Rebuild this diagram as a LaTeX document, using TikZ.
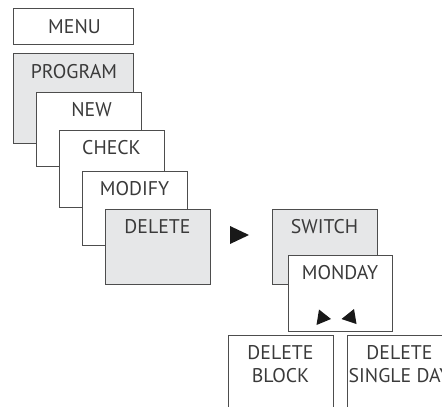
\documentclass[tikz,border=0pt]{standalone}
\usepackage{fontspec}
\setmainfont{PT Sans}
\definecolor{boxgray}{HTML}{E6E7E8}
\definecolor{linegray}{HTML}{4D4D4D}
\definecolor{txtgray}{HTML}{3A3A3A}
\begin{document}
\begin{tikzpicture}[x=1pt,y=-1pt,
  box/.style={draw=linegray, line width=1pt, fill=white, minimum width=105pt,
    minimum height=75pt, anchor=north west, inner sep=0pt, outer sep=0pt},
  graybox/.style={box, fill=boxgray},
  openbox/.style={minimum width=105pt, minimum height=80pt, anchor=north west,
    inner sep=0pt, outer sep=0pt},
  lbl/.style={anchor=north, text=txtgray, font=\fontsize{19.8}{22.4}\selectfont,
    inner sep=0pt, align=center},
  tri/.style={fill=black!90, draw=none}
]
\useasboundingbox (0,0) rectangle (442,407);
% left stack
\node[box, minimum width=120pt, minimum height=36pt] (menu) at (13,8) {};
\node[lbl] (menut) at ([xshift=1.5pt,yshift=-11pt]menu.north) {MENU};
\node[graybox, minimum width=120pt, minimum height=90pt] (prog) at (13,53) {};
\node[lbl] (progt) at ([xshift=1pt,yshift=-11pt]prog.north) {PROGRAM};
\node[box, minimum height=74pt] (new) at (36,92) {};
\node[lbl] (newt) at ([xshift=3pt,yshift=-10.5pt]new.north) {NEW};
\node[box, minimum height=77pt] (check) at (59,130) {};
\node[lbl] (checkt) at ([yshift=-10.5pt]check.north) {CHECK};
\node[box, minimum height=74pt] (modify) at (82,171) {};
\node[lbl] (modifyt) at ([yshift=-10.5pt]modify.north) {MODIFY};
\node[graybox] (delete) at (105,209) {};
\node[lbl] (deletet) at ([yshift=-10.5pt]delete.north) {DELETE};
% big arrow
\coordinate (a1) at (230,226);
\coordinate (a2) at (249,235);
\coordinate (a3) at (230,244);
\fill[tri] (a1) -- (a2) -- (a3) -- cycle;
% right stack
\node[graybox] (switch) at (272,209) {};
\node[lbl] (switcht) at ([yshift=-10.5pt]switch.north) {SWITCH};
\node[box, minimum width=104pt, minimum height=76pt] (monday) at (288,255) {};
\node[lbl] (mondayt) at ([yshift=-10.5pt]monday.north) {MONDAY};
\coordinate (r1) at (319,309.5);
\coordinate (r2) at (331,319);
\coordinate (r3) at (316.5,325);
\fill[tri] (r1) -- (r2) -- (r3) -- cycle;
\coordinate (l1) at (354,309);
\coordinate (l2) at (341.5,319);
\coordinate (l3) at (356.5,324);
\fill[tri] (l1) -- (l2) -- (l3) -- cycle;
% bottom open boxes
\node[openbox] (block) at (228,335) {};
\draw[draw=linegray, line width=1pt] (block.south west) |- (block.north east) -- (block.south east);
\node[lbl] (blockt) at ([yshift=-10.5pt]block.north) {DELETE\\BLOCK};
\node[openbox] (single) at (347,335) {};
\draw[draw=linegray, line width=1pt] (single.south west) |- (single.north east) -- (single.south east);
\node[lbl] (singlet) at ([yshift=-10.5pt]single.north) {DELETE\\SINGLE DAY};
\end{tikzpicture}
\end{document}
